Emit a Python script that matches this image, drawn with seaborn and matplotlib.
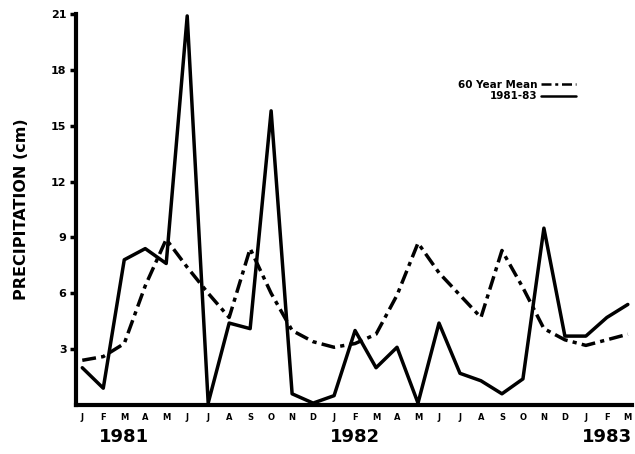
import matplotlib
matplotlib.use("Agg")
import matplotlib.pyplot as plt
import matplotlib.transforms as mtransforms
import pandas as pd
import seaborn as sns

# --- data (cm per month, Jan 1981 .. Mar 1983) ---
months = ["J", "F", "M", "A", "M", "J", "J", "A", "S", "O", "N", "D",
          "J", "F", "M", "A", "M", "J", "J", "A", "S", "O", "N", "D",
          "J", "F", "M"]
observed = [2.0, 0.9, 7.8, 8.4, 7.6, 20.9, 0.1, 4.4, 4.1, 15.8, 0.6, 0.1,
            0.5, 4.0, 2.0, 3.1, 0.1, 4.4, 1.7, 1.3, 0.6, 1.4, 9.5, 3.7,
            3.7, 4.7, 5.4]
mean_60yr = [2.4, 2.6, 3.3, 6.4, 8.9, 7.4, 6.0, 4.7, 8.4, 6.0, 4.0, 3.4,
             3.1, 3.3, 3.8, 5.9, 8.7, 7.1, 5.9, 4.7, 8.3, 6.3, 4.1, 3.5,
             3.2, 3.5, 3.8]
years = ["1981", "1982", "1983"]
year_pos = [2, 13, 25]
yticks = [3, 6, 9, 12, 15, 18, 21]

idx = list(range(len(months)))
df = pd.concat([
    pd.DataFrame({"month": idx, "precip": mean_60yr, "series": "60 Year Mean"}),
    pd.DataFrame({"month": idx, "precip": observed, "series": "1981-83"}),
])

sns.set_style("ticks")
plt.rcParams["font.family"] = ["DejaVu Sans"]
plt.rcParams["font.weight"] = "bold"
plt.rcParams["text.color"] = "black"
plt.rcParams["axes.labelcolor"] = "black"
plt.rcParams["xtick.color"] = "black"
plt.rcParams["ytick.color"] = "black"
plt.rcParams["axes.edgecolor"] = "black"

fig = plt.figure(figsize=(6.35, 4.54), dpi=100)
ax = fig.add_axes([0.12, 0.108, 0.875, 0.861])

sns.lineplot(data=df, x="month", y="precip", hue="series", style="series",
             palette={"60 Year Mean": "black", "1981-83": "black"},
             dashes={"60 Year Mean": (4, 1.5, 1.2, 1.5), "1981-83": ""},
             linewidth=2.5, ax=ax)

ax.set_xlim(-0.29, 26.19)
ax.set_ylim(0, 21)
ax.set_xticks(idx)
ax.set_xticklabels(months, fontsize=6, fontweight="bold")
ax.set_yticks(yticks)
ax.set_yticklabels([str(t) for t in yticks], fontsize=8, fontweight="black")
ax.tick_params(axis="x", length=0, pad=6)
ax.tick_params(axis="y", length=4, width=2.5, pad=3)
for side in ["top", "right"]:
    ax.spines[side].set_visible(False)
for side in ["left", "bottom"]:
    ax.spines[side].set_linewidth(3)

ax.set_xlabel("")
ax.set_ylabel("PRECIPITATION (cm)", fontsize=11.5, fontweight="black", labelpad=16)

trans = mtransforms.blended_transform_factory(ax.transData, fig.transFigure)
for yr, pos in zip(years, year_pos):
    ax.text(pos, 1 - 437 / 454, yr, transform=trans, ha="center", va="center",
            fontsize=13, fontweight="black")

leg = ax.legend(loc="upper right", bbox_to_anchor=(0.922, 0.845),
                bbox_transform=fig.transFigure, frameon=False, markerfirst=False,
                handlelength=3.4, handletextpad=0.3, labelspacing=0.15,
                prop={"size": 7.5, "weight": "black"})
for h in leg.get_lines():
    h.set_linewidth(1.8)

fig.savefig("out.png", dpi=100)
